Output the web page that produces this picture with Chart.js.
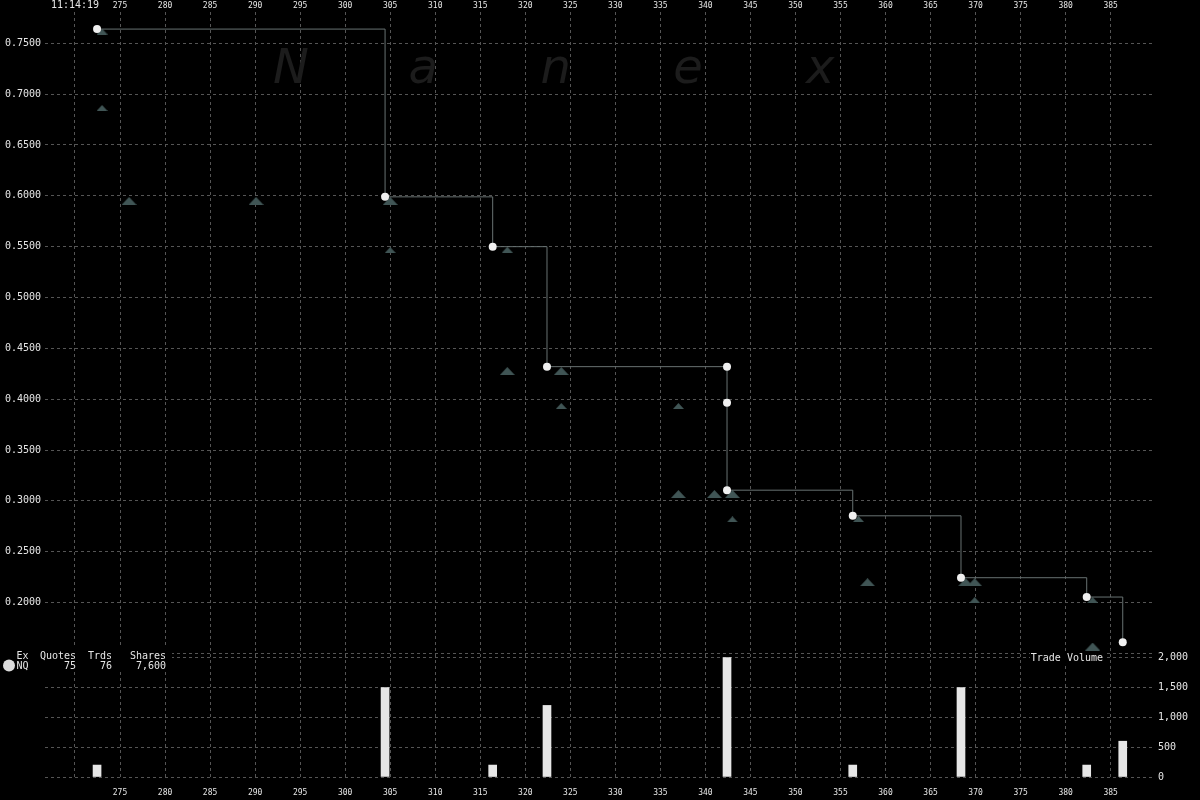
<!DOCTYPE html>
<html><head><meta charset="utf-8">
<script src="https://cdn.jsdelivr.net/npm/chart.js@4/dist/chart.umd.min.js"></script>
<style>html,body{margin:0;padding:0;background:#000;overflow:hidden}canvas{display:block}</style>
</head><body>
<canvas id="c" width="1200" height="800" style="width:1200px;height:800px"></canvas>
<script>
// ---- data ----
const sessionTime = '11:14:19';
const xTickValues = [270,275,280,285,290,295,300,305,310,315,320,325,330,335,340,345,350,355,360,365,370,375,380,385];
const priceTickValues = [0.15,0.20,0.25,0.30,0.35,0.40,0.45,0.50,0.55,0.60,0.65,0.70,0.75];
const volumeTickValues = [0,500,1000,1500,2000];

const tradeTimes  = [272.45, 304.43, 316.38, 322.41, 342.40, 342.40, 342.40, 356.36, 368.38, 382.34, 386.34];
const tradePrices = [0.7640, 0.5990, 0.5500, 0.4320, 0.4320, 0.3965, 0.3105, 0.2853, 0.2244, 0.2054, 0.1610];

const volTimes  = [272.45, 304.43, 316.38, 322.41, 342.40, 356.36, 368.38, 382.34, 386.34];
const volShares = [200, 1500, 200, 1200, 2000, 200, 1500, 200, 600];

const bigQuoteTimes  = [276.0, 290.1, 305.0, 318.0, 324.0, 337.0, 341.0, 343.0, 358.0, 368.9, 369.9, 383.0];
const bigQuotePrices = [0.5950, 0.5950, 0.5950, 0.4277, 0.4277, 0.3067, 0.3067, 0.3067, 0.2200, 0.2200, 0.2200, 0.1567];

const smallQuoteTimes  = [273.0, 273.0, 305.0, 318.0, 324.0, 337.0, 343.0, 357.0, 369.9, 383.0];
const smallQuotePrices = [0.7616, 0.6864, 0.5467, 0.5470, 0.3933, 0.3933, 0.2818, 0.2821, 0.2024, 0.2024];

const legendHeader = ['Ex', 'Quotes', 'Trds', 'Shares'];
const legendRow = ['NQ', '75', '76', '7,600'];

// ---- styles ----
const MONO = '"DejaVu Sans Mono", "Liberation Mono", monospace';
const TEXT = '#e6e6e6';
const GRID = '#555555';
const QUOTE = '#405555';

function triangleImage(w, h, color) {
  const c = document.createElement('canvas');
  c.width = w; c.height = h;
  const g = c.getContext('2d');
  g.fillStyle = color;
  g.beginPath(); g.moveTo(0, h); g.lineTo(w / 2, 0); g.lineTo(w, h); g.closePath(); g.fill();
  return c;
}
const bigTri = triangleImage(15, 8, QUOTE);
const smallTri = triangleImage(11, 6, QUOTE);

const pts = (xs, ys) => xs.map((x, i) => ({x, y: ys[i]}));
const setTicks = (vals) => (s) => { s.ticks = vals.map(v => ({value: v})); };

const bgPlugin = {
  id: 'bg',
  beforeDraw(chart) {
    const ctx = chart.ctx; ctx.save(); ctx.fillStyle = '#000'; ctx.fillRect(0, 0, chart.width, chart.height); ctx.restore();
  }
};
const watermark = {
  id: 'watermark',
  beforeDatasetsDraw(chart) {
    const ctx = chart.ctx; ctx.save();
    ctx.font = 'italic 48px "DejaVu Sans", sans-serif';
    ctx.fillStyle = '#1c1c1c'; ctx.textAlign = 'center'; ctx.textBaseline = 'alphabetic';
    const letters = ['N','a','n','e','x'];
    letters.forEach((l, i) => ctx.fillText(l, 291 + i * 132.3, 83));
    ctx.restore();
  }
};
const overlay = {
  id: 'overlay',
  afterDraw(chart) {
    const ctx = chart.ctx; ctx.save();
    // legend box
    ctx.fillStyle = '#000'; ctx.fillRect(0, 647, 172, 25);
    ctx.fillStyle = '#dcdcdc'; ctx.beginPath(); ctx.arc(9, 665.5, 6, 0, Math.PI * 2); ctx.fill();
    ctx.font = '10px ' + MONO; ctx.fillStyle = TEXT; ctx.textBaseline = 'middle'; ctx.textAlign = 'right';
    const ends = [28.5, 76, 112, 166];
    legendHeader.forEach((t, i) => ctx.fillText(t, ends[i], 656));
    legendRow.forEach((t, i) => ctx.fillText(t, ends[i], 666));
    // trade volume label
    ctx.fillStyle = '#000'; ctx.fillRect(1030, 651, 76, 13);
    ctx.fillStyle = TEXT; ctx.fillText('Trade Volume', 1103, 658);
    ctx.restore();
  }
};

new Chart(document.getElementById('c'), {
  type: 'line',
  data: {
    datasets: [
      {
        type: 'line', label: 'Trades', data: pts(tradeTimes, tradePrices),
        xAxisID: 'x', yAxisID: 'y', stepped: 'before',
        borderColor: '#687272', borderWidth: 1, fill: false,
        pointRadius: 4, pointBackgroundColor: '#f0f0f0', pointBorderColor: '#f0f0f0', pointBorderWidth: 0,
        order: 0, clip: false
      },
      {
        type: 'line', label: 'Quotes big', data: pts(bigQuoteTimes, bigQuotePrices),
        xAxisID: 'x', yAxisID: 'y', showLine: false,
        pointStyle: bigTri, pointRadius: 6, order: 1
      },
      {
        type: 'line', label: 'Quotes small', data: pts(smallQuoteTimes, smallQuotePrices),
        xAxisID: 'x', yAxisID: 'y', showLine: false,
        pointStyle: smallTri, pointRadius: 5, order: 1
      },
      {
        type: 'bar', label: 'Trade Volume', data: pts(volTimes, volShares),
        xAxisID: 'x', yAxisID: 'yVol', backgroundColor: '#e6e6e6', borderWidth: 0,
        barThickness: 8, grouped: false, order: 2
      }
    ]
  },
  options: {
    responsive: false, animation: false, devicePixelRatio: 1,
    layout: { padding: 0 },
    plugins: { legend: { display: false }, tooltip: { enabled: false } },
    scales: {
      x: {
        type: 'linear', position: 'bottom', min: 266.67, max: 389.70, offset: false,
        afterBuildTicks: setTicks(xTickValues),
        afterFit: (s) => { s.height = 23; },
        grid: { color: GRID, drawTicks: false, lineWidth: 1, offset: false },
        border: { display: false, dash: [3, 3] },
        ticks: { autoSkip: false, maxRotation: 0, padding: 11, color: TEXT,
          font: { family: MONO, size: 8 },
          callback: (v) => v === 270 ? '' : String(v) }
      },
      xTop: {
        type: 'linear', position: 'top', min: 266.67, max: 389.70, offset: false,
        afterBuildTicks: setTicks(xTickValues),
        afterFit: (s) => { s.height = 12; },
        grid: { display: false, drawTicks: false, offset: false },
        border: { display: false },
        ticks: { autoSkip: false, maxRotation: 0, padding: 1, color: TEXT,
          font: (ctx) => ({ family: MONO, size: (ctx.tick && ctx.tick.value === 270) ? 10 : 8 }),
          callback: (v) => v === 270 ? sessionTime : String(v) }
      },
      y: {
        type: 'linear', position: 'left', min: 0.0284, max: 0.7808,
        afterBuildTicks: setTicks(priceTickValues),
        afterFit: (s) => { s.width = 45; },
        grid: { color: GRID, drawTicks: false },
        border: { display: false, dash: [3, 3] },
        ticks: { autoSkip: false, padding: 4, color: TEXT, font: { family: MONO, size: 10 },
          callback: (v) => Number(v).toFixed(4) }
      },
      yRight: {
        type: 'linear', position: 'right', min: 0.0284, max: 0.7808,
        afterBuildTicks: setTicks(priceTickValues),
        afterFit: (s) => { s.width = 0; },
        grid: { display: false, drawTicks: false },
        border: { display: false },
        ticks: { autoSkip: false, padding: 5, color: TEXT, font: { family: MONO, size: 10 },
          callback: (v) => Number(v).toFixed(4) }
      },
      yVol: {
        type: 'linear', position: 'right', min: 0, max: 12825,
        afterBuildTicks: setTicks(volumeTickValues),
        afterFit: (s) => { s.width = 47; },
        grid: { color: GRID, drawTicks: false },
        border: { display: false, dash: [3, 3] },
        ticks: { autoSkip: false, padding: 5, color: TEXT, font: { family: MONO, size: 10 },
          showLabelBackdrop: true, backdropColor: '#000', backdropPadding: 1,
          callback: (v) => Number(v).toLocaleString('en-US') }
      }
    }
  },
  plugins: [bgPlugin, watermark, overlay]
});
</script>
</body></html>
